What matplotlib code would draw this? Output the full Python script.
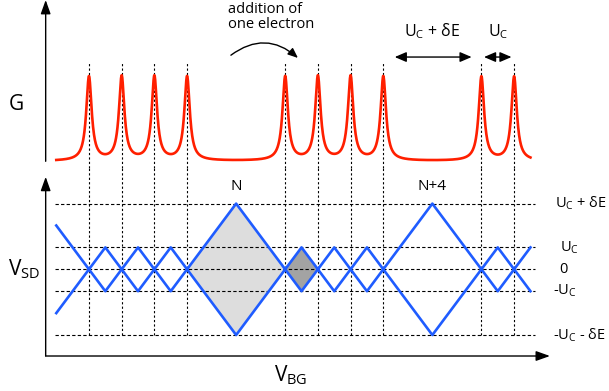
import matplotlib
matplotlib.use("Agg")
import matplotlib.pyplot as plt
import numpy as np

plt.rcParams['font.family'] = ['Open Sans', 'DejaVu Sans']
plt.rcParams['mathtext.fontset'] = 'custom'
plt.rcParams['mathtext.rm'] = 'Open Sans'
plt.rcParams['mathtext.it'] = 'Open Sans'
plt.rcParams['mathtext.bf'] = 'Open Sans:bold'

# gate positions of the conductance peaks (units of U_C)
peaks = [0, 1, 2, 3, 6, 7, 8, 9, 12, 13]
peak_width = 0.1
# half-height of the Coulomb diamond between each pair of neighbouring peaks
diamond_heights = [1, 1, 1, 3, 1, 1, 1, 3, 1]
left_edge = (-1, 2)
right_edge = (13.5, 1)
diamond_labels = {3: 'N', 7: 'N+4'}
light_diamond = 3
dark_diamond = 4

# bias levels (dotted lines) and their labels
level_values = [3, 1, 0, -1, -3]
level_labels = ['$U_C$ + δE', '$U_C$', '0', '-$U_C$', '-$U_C$ - δE']

red = '#ff1f00'
blue = '#1f5cff'

fig = plt.figure(figsize=(6.09, 3.91), dpi=100)
ax_g = fig.add_axes([0.075, 0.5703, 0.828, 0.4297])
ax_d = fig.add_axes([0.075, 0.0895, 0.828, 0.4808])

for ax in (ax_g, ax_d):
    ax.set_xlim(-1.324, 14.095)
    ax.axis('off')
ax_g.set_ylim(-0.081, 1.919)
ax_d.set_ylim(-3.959, 4.626)

# --- conductance peaks
u = np.linspace(left_edge[0], right_edge[0], 2000)
g = np.zeros_like(u)
for p in peaks:
    g += 1.0 / (1.0 + ((u - p) / peak_width) ** 2)
ax_g.plot(u, g, color=red, lw=1.9, zorder=3)

# vertical dotted lines through both panels
for p in peaks:
    ax_g.plot([p, p], [-0.081, 1.181], color='k', lw=0.8,
              ls=(0, (2, 2)), zorder=2, clip_on=False)
    ax_d.plot([p, p], [-3, 4.626], color='k', lw=0.8,
              ls=(0, (2, 2)), zorder=2, clip_on=False)

# horizontal dotted levels
for v in level_values:
    ax_d.plot([-1.05, 13.65], [v, v], color='k', lw=0.8,
              ls=(0, (3, 2)), zorder=2)

# --- Coulomb diamonds
for i, h in enumerate(diamond_heights):
    a, b = peaks[i], peaks[i + 1]
    m = (a + b) / 2
    xs = [a, m, b, m, a]
    ys = [0, h, 0, -h, 0]
    if i == light_diamond:
        ax_d.fill(xs, ys, color='#dddddd', lw=0, zorder=1)
    if i == dark_diamond:
        ax_d.fill(xs, ys, color='#a3a3a3', lw=0, zorder=1)
    ax_d.plot(xs, ys, color=blue, lw=1.9, zorder=3)
    if i in diamond_labels:
        ax_d.text(m, h + 0.76, diamond_labels[i], ha='center', va='center',
                  fontsize=11)

for s in (1, -1):
    ax_d.plot([left_edge[0], peaks[0]], [s * left_edge[1], 0], color=blue, lw=1.9, zorder=3)
    ax_d.plot([peaks[-1], right_edge[0]], [0, s * right_edge[1]], color=blue, lw=1.9, zorder=3)

label_x = [14.25, 14.41, 14.38, 14.19, 14.19]
for x, v, lab in zip(label_x, level_values, level_labels):
    ax_d.text(x, v, lab, ha='left', va='center', fontsize=10.5)

# --- axes arrows
axis_arrow = dict(arrowstyle='-|>,head_length=0.7,head_width=0.25',
                  mutation_scale=12, color='k', lw=1.0, shrinkA=0, shrinkB=0)
ax_g.annotate('', xy=(0, 1.0), xytext=(0, 0.04), xycoords='axes fraction',
              arrowprops=axis_arrow)
ax_d.annotate('', xy=(0, 0.953), xytext=(0, 0), xycoords='axes fraction',
              arrowprops=axis_arrow)
ax_d.annotate('', xy=(1, 0), xytext=(0, 0), xycoords='axes fraction',
              arrowprops=axis_arrow)

ax_g.text(-2.23, 0.68, 'G', ha='center', va='center', fontsize=15)
ax_d.text(-1.99, 0, '$V_{SD}$', ha='center', va='center', fontsize=15)
ax_d.text(6.18, -4.83, '$V_{BG}$', ha='center', va='center', fontsize=15,
          clip_on=False)

# --- annotations on the conductance panel
ax_g.text(4.25, 1.717, 'addition of\none electron', ha='left', va='center',
          multialignment='left', fontsize=10.5, linespacing=1.0)
ax_g.annotate('', xy=(6.39, 1.229), xytext=(4.34, 1.262),
              arrowprops=dict(arrowstyle='-|>,head_length=0.6,head_width=0.25',
                              mutation_scale=10, color='k', lw=1.0,
                              shrinkA=0, shrinkB=0,
                              connectionstyle='arc3,rad=-0.4'))

dbl = dict(arrowstyle='<|-|>,head_length=0.7,head_width=0.3',
           mutation_scale=10, color='k', lw=1.0, shrinkA=0, shrinkB=0)
ax_g.annotate('', xy=(11.7, 1.24), xytext=(9.35, 1.24), arrowprops=dbl)
ax_g.annotate('', xy=(12.92, 1.24), xytext=(12.08, 1.24), arrowprops=dbl)
ax_g.text(10.5, 1.49, '$U_C$ + δE', ha='center', va='baseline', fontsize=11.5)
ax_g.text(12.5, 1.49, '$U_C$', ha='center', va='baseline', fontsize=11.5)

fig.savefig('out.png', dpi=100)
